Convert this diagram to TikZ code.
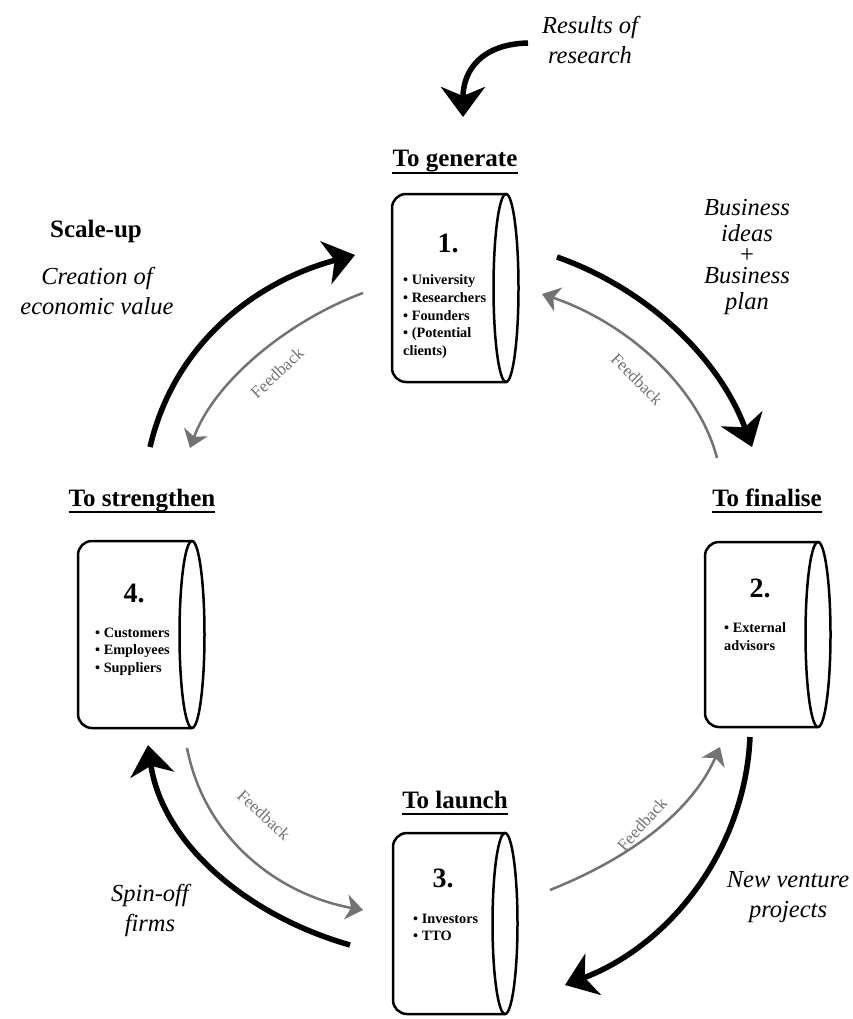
\documentclass[tikz,border=0pt]{standalone}
\usepackage{fontspec}
\setmainfont{Liberation Serif}
\usepackage{tikz}
\usetikzlibrary{arrows.meta, positioning}
\definecolor{fbgray}{gray}{0.45}

\tikzset{
  drum/.style={line width=2.5pt, rounded corners=14pt},
  drumend/.style={line width=2.5pt},
  heading/.style={font=\fontsize{25}{28}\selectfont\bfseries, inner sep=0pt, text depth=5.5pt, anchor=base},
  stepnum/.style={font=\fontsize{28}{30}\selectfont\bfseries, inner sep=0pt},
  items/.style={font=\fontsize{14.3}{17.7}\selectfont\bfseries, align=left, anchor=north west, inner sep=0pt},
  note/.style={font=\fontsize{24.5}{30}\selectfont\itshape, align=center, inner sep=0pt},
  flow/.style={line width=5.5pt, -{Stealth[length=30pt, width=44pt, inset=9pt]}},
  fback/.style={fbgray, line width=2.5pt, -{Stealth[length=17pt, width=25pt, inset=5pt]}},
  fbtext/.style={font=\fontsize{17}{20}\selectfont, text=fbgray, inner sep=0pt},
}

\begin{document}
\begin{tikzpicture}[x=1pt, y=-1pt]
  \useasboundingbox (0,0) rectangle (852,1019);

  % the four drums
  \draw[drum] (506,194) -- (392,194) -- (392,382) -- (506,382);
  \draw[drumend] (506,288) ellipse [x radius=12.5pt, y radius=94pt];
  \draw[drum] (818,542) -- (705,542) -- (705,727) -- (818,727);
  \draw[drumend] (818,634.5) ellipse [x radius=12.5pt, y radius=92.5pt];
  \draw[drum] (505,833) -- (393,833) -- (393,1014) -- (505,1014);
  \draw[drumend] (505,923.5) ellipse [x radius=12.5pt, y radius=90.5pt];
  \draw[drum] (192,541) -- (78,541) -- (78,728) -- (192,728);
  \draw[drumend] (192,634.5) ellipse [x radius=12.5pt, y radius=93.5pt];

  % contents
  \node[stepnum] (gen) at (448,243) {1.};
  \node[items] (gen-list) at (403,274.5) {\textbullet\ University\\\textbullet\ Researchers\\\textbullet\ Founders\\\textbullet\ (Potential\\clients)};
  \node[stepnum] (fin) at (760,588) {2.};
  \node[items] (fin-list) at (724,622.5) {\textbullet\ External\\advisors};
  \node[stepnum] (lau) at (443,878) {3.};
  \node[items] (lau-list) at (413,913.7) {\textbullet\ Investors\\\textbullet\ TTO};
  \node[stepnum] (str) at (134,593) {4.};
  \node[items] (str-list) at (95,627.5) {\textbullet\ Customers\\\textbullet\ Employees\\\textbullet\ Suppliers};

  % headings
  \node[heading] (gen-h) at (455,167) {To generate};
  \node[heading] (fin-h) at (767,506) {To finalise};
  \node[heading] (lau-h) at (455,808) {To launch};
  \node[heading] (str-h) at (142,506) {To strengthen};
  \foreach \h in {gen-h, fin-h, lau-h, str-h}
    \draw[line width=2pt] (\h.south west) -- (\h.south east);

  % side notes
  \node[note] (results) at (590,40) {Results of\\research};
  \node[note, font=\fontsize{24.5}{26}\selectfont\itshape] (ideas) at (747,257) {Business\\ideas\\[-5pt]+\\[-5pt]Business\\plan};
  \node[font=\fontsize{25}{28}\selectfont\bfseries, inner sep=0pt, anchor=base] (scale) at (96,237) {Scale-up};
  \node[note] (creation) at (97,291) {Creation of\\economic value};
  \node[note] (spinoff) at (150,910) {Spin-off\\firms};
  \node[note] (venture) at (788,897) {New venture\\projects};

  % arrow ends
  \coordinate (res-a) at (528,43);   \coordinate (res-b) at (463,117);
  \coordinate (gf-a) at (557,257);   \coordinate (gf-b) at (752,447);
  \coordinate (fl-a) at (750,737);   \coordinate (fl-b) at (565,985);
  \coordinate (ls-a) at (350,945);   \coordinate (ls-b) at (148,745);
  \coordinate (sg-a) at (150,447);   \coordinate (sg-b) at (355,255);
  \coordinate (fg-a) at (717,458);   \coordinate (fg-b) at (542,294);
  \coordinate (gs-a) at (363,293);   \coordinate (gs-b) at (190,448);
  \coordinate (sl-a) at (187,748);   \coordinate (sl-b) at (363,910);
  \coordinate (lf-a) at (550,890);   \coordinate (lf-b) at (720,747);

  % main cycle
  \draw[flow] (res-a) .. controls (482,44) and (463,70) .. (res-b);
  \draw[flow] (gf-a) .. controls (650,290) and (720,360) .. (gf-b);
  \draw[flow] (fl-a) .. controls (745,850) and (670,945) .. (fl-b);
  \draw[flow] (ls-a) .. controls (245,915) and (162,842) .. (ls-b);
  \draw[flow] (sg-a) .. controls (175,340) and (260,280) .. (sg-b);

  % feedback loops
  \draw[fback] (fg-a) .. controls (698,385) and (625,322) .. (fg-b);
  \draw[fback] (gs-a) .. controls (290,320) and (215,380) .. (gs-b);
  \draw[fback] (sl-a) .. controls (205,840) and (280,895) .. (sl-b);
  \draw[fback] (lf-a) .. controls (625,860) and (690,815) .. (lf-b);
  \node[fbtext, rotate=-45] (fb-fg) at (637,379) {Feedback};
  \node[fbtext, rotate=43] (fb-gs) at (277,373) {Feedback};
  \node[fbtext, rotate=-43] (fb-sl) at (264,815) {Feedback};
  \node[fbtext, rotate=48] (fb-lf) at (642,824) {Feedback};
\end{tikzpicture}
\end{document}
